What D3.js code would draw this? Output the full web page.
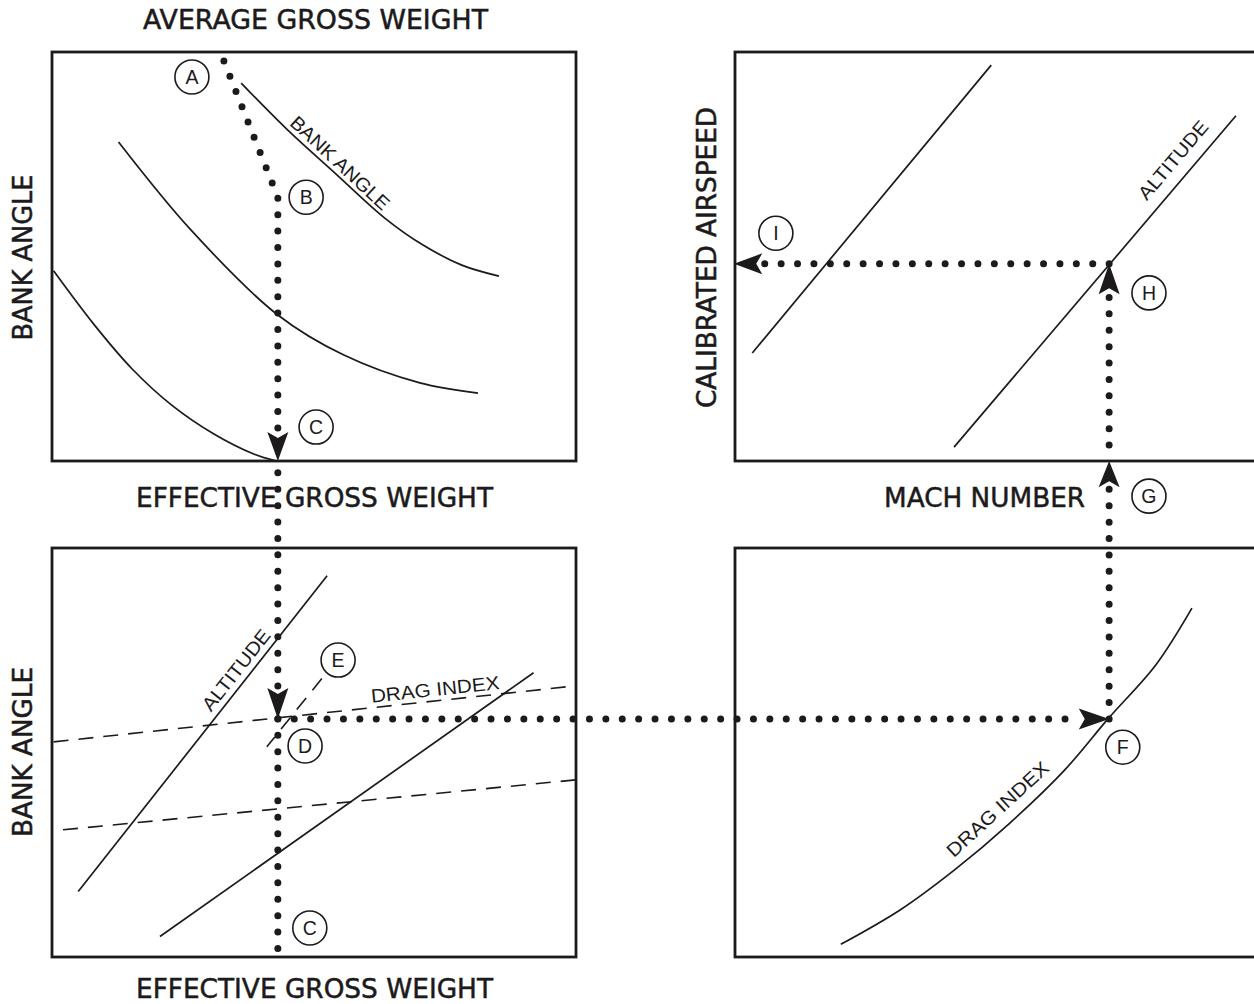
<!DOCTYPE html>
<html>
<head>
<meta charset="utf-8">
<script src="https://cdn.jsdelivr.net/npm/d3@7"></script>
<style>
  html, body { margin: 0; padding: 0; background: #fff; }
  svg { display: block; }
</style>
</head>
<body>
<svg id="chart" width="1254" height="1004"></svg>
<script>
// ---------------- DATA (panel units: 0..100 on each axis) ----------------
const tlCurveTop = [[36.1,92.4],[45.0,80.9],[54.0,70.4],[63.5,59.4],[70.8,52.8],[78.2,47.9],[85.3,45.2]];
const tlCurveMid = [[12.7,78.0],[26.5,56.5],[43.1,35.7],[55.7,25.9],[70.2,19.1],[81.3,16.6]];
const tlCurveLow = [[0.3,46.5],[8.0,33.4],[15.3,22.5],[22.9,13.6],[30.9,6.6],[38.5,1.7],[42.5,0.1]];
const trAltitudeLines = [[[3.3,26.4],[48.9,96.8]], [[41.8,3.4],[95.6,84.4]]];
const blAltitudeLines = [[[5.0,16.0],[52.5,93.2]], [[20.6,5.0],[91.9,69.5]]];
const blDragLines = [[[0.3,52.6],[98.5,66.1]], [[2.1,31.1],[99.9,43.3]]];
const blLeader = [[51.5,68.1],[41.0,51.4]];
const brDragCurve = [[20.2,3.1],[31.5,11.5],[41.9,21.3],[52.4,32.7],[62.9,45.7],[71.3,58.4],[80.3,71.4],[87.2,85.3]];

// dotted guide routes: [panel, x, y]
const routes = [
  [["TL",32.8,97.8],["TL",43.1,64.5],["TL",43.1,7.1]],
  [["TL",43.1,-2.9],["BL",43.1,1.0]],
  [["BL",43.1,58.2],["BR",65.6,58.2]],
  [["BR",71.4,58.2],["TR",71.4,-6.4]],
  [["TR",71.4,3.9],["TR",71.4,40.1]],
  [["TR",71.4,48.2],["TR",5.2,48.2]]
];
// arrowheads: [base, tip]
const arrows = [
  [["TL",43.1,7.1],["TL",43.1,0]],
  [["BL",43.1,65.8],["BL",43.1,58.2]],
  [["BR",65.6,58.2],["BR",71.4,58.2]],
  [["TR",71.4,-6.4],["TR",71.4,0]],
  [["TR",71.4,40.8],["TR",71.4,48.2]],
  [["TR",5.2,48.2],["TR",-0.2,48.2]]
];
const stepLabels = ["A","B","C","D","E","C","F","G","H","I"];
const stepPoints = [["TL",26.7,93.9],["TL",48.5,64.5],["TL",50.4,8.3],["BL",48.3,51.6],["BL",54.6,72.6],
                    ["BL",49.2,7.1],["BR",74.0,51.3],["TR",79.0,-8.6],["TR",79.0,41.1],["TR",7.8,55.7]];
const curveLabelTexts = ["BANK ANGLE","ALTITUDE","ALTITUDE","DRAG INDEX","DRAG INDEX"];
const curveLabelPoints = [["TL",55.0,72.9],["TR",83.6,73.6],["BL",35.1,70.2],["BL",73.1,65.5],["BR",50.1,36.2]];
const axisTitles = ["AVERAGE GROSS WEIGHT","EFFECTIVE GROSS WEIGHT","EFFECTIVE GROSS WEIGHT",
                    "MACH NUMBER","BANK ANGLE","BANK ANGLE","CALIBRATED AIRSPEED"];

// ---------------- LAYOUT / STYLE ----------------
const ink = "#1c1a1b";
const panelW = 524, panelH = 409;
const panelOrigins = { TL:[52,52], TR:[735,52], BL:[52,548], BR:[735,548] };
const curveLabelAngles = [43, -49.6, -51.8, -6.1, -42.5];
const curveLabelLengths = [128, 97, 98, 129, 131];
// [x, y(baseline), rotation, textLength]
const axisTitleLayout = [[315.5,28.5,0,345],[314.5,507,0,357],[314.5,998,0,357],[984.5,507,0,201],
                         [32,257.5,-90,166],[32,752,-90,170],[716,257.5,-90,301]];

const scales = {};
for (const k in panelOrigins) {
  const [l, t] = panelOrigins[k];
  scales[k] = {
    x: d3.scaleLinear().domain([0,100]).range([l, l + panelW]),
    y: d3.scaleLinear().domain([0,100]).range([t + panelH, t])
  };
}
const P = p => [scales[p[0]].x(p[1]), scales[p[0]].y(p[2])];

const svg = d3.select("#chart");
svg.append("rect").attr("width",1254).attr("height",1004).attr("fill","#fff");

// panel boxes
for (const k in panelOrigins) {
  const s = scales[k];
  svg.append("rect")
    .attr("x", s.x(0)).attr("y", s.y(100))
    .attr("width", s.x(100) - s.x(0)).attr("height", s.y(0) - s.y(100))
    .attr("fill","none").attr("stroke", ink).attr("stroke-width", 2.8);
}

function drawLine(panel, pts, opts) {
  const s = scales[panel];
  const gen = d3.line().x(d => s.x(d[0])).y(d => s.y(d[1]));
  if (opts.curve) gen.curve(d3.curveCatmullRom.alpha(0.5));
  const p = svg.append("path").attr("d", gen(pts))
    .attr("fill","none").attr("stroke", ink).attr("stroke-width", opts.width || 1.7);
  if (opts.dash) p.attr("stroke-dasharray", opts.dash);
  return p;
}

// TL curves
[tlCurveTop, tlCurveMid, tlCurveLow].forEach(c => drawLine("TL", c, {curve:true}));
// TR lines
trAltitudeLines.forEach(l => drawLine("TR", l, {}));
// BL lines
blAltitudeLines.forEach(l => drawLine("BL", l, {}));
blDragLines.forEach(l => drawLine("BL", l, {dash:"15 10", width:1.6}));
drawLine("BL", blLeader, {dash:"15 10", width:1.6});
// BR curve
drawLine("BR", brDragCurve, {curve:true});

// dotted routes
const routeGen = d3.line();
routes.forEach(r => {
  svg.append("path").attr("d", routeGen(r.map(P)))
    .attr("fill","none").attr("stroke", ink)
    .attr("stroke-width", 7).attr("stroke-linecap","round")
    .attr("stroke-dasharray","0 16.4");
});

// arrowheads
arrows.forEach(([b, t]) => {
  const [bx, by] = P(b), [tx, ty] = P(t);
  const len = Math.hypot(tx - bx, ty - by);
  const ux = (tx - bx) / len, uy = (ty - by) / len;
  const nx = -uy, ny = ux, hw = 10.5, notch = 6;
  const pts = [[tx,ty],[bx + nx*hw, by + ny*hw],[bx + ux*notch, by + uy*notch],[bx - nx*hw, by - ny*hw]];
  svg.append("path").attr("d", "M" + pts.map(p => p.join(",")).join("L") + "Z").attr("fill", ink);
});

// step circles
stepPoints.forEach((p, i) => {
  const [cx, cy] = P(p);
  svg.append("circle").attr("cx", cx).attr("cy", cy).attr("r", 17)
    .attr("fill","#fff").attr("stroke", ink).attr("stroke-width", 1.6);
  svg.append("text").attr("x", cx).attr("y", cy + 6.8)
    .attr("text-anchor","middle")
    .attr("font-family","'Liberation Sans Narrow','Liberation Sans',Arial,sans-serif")
    .attr("font-size", 19.5).attr("fill", ink).text(stepLabels[i]);
});

// curve labels
curveLabelPoints.forEach((p, i) => {
  const [cx, cy] = P(p);
  svg.append("text")
    .attr("transform", `translate(${cx},${cy}) rotate(${curveLabelAngles[i]})`)
    .attr("x", 0).attr("y", 6.8)
    .attr("text-anchor","middle")
    .attr("font-family","'Liberation Sans',Arial,sans-serif")
    .attr("font-size", 19).attr("fill", ink)
    .attr("textLength", curveLabelLengths[i]).attr("lengthAdjust","spacingAndGlyphs")
    .text(curveLabelTexts[i]);
});

// axis titles
axisTitles.forEach((t, i) => {
  const [x, y, rot, len] = axisTitleLayout[i];
  svg.append("text")
    .attr("transform", `translate(${x},${y}) rotate(${rot})`)
    .attr("x", 0).attr("y", 0)
    .attr("text-anchor","middle")
    .attr("font-family","'DejaVu Sans',sans-serif")
    .attr("font-size", 26).attr("fill", ink)
    .attr("stroke", ink).attr("stroke-width", 0.5)
    .attr("textLength", len).attr("lengthAdjust","spacingAndGlyphs")
    .text(t);
});
</script>
</body>
</html>
